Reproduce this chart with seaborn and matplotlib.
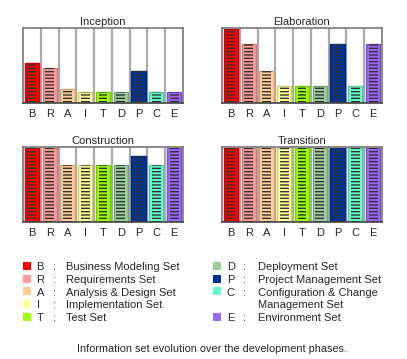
import matplotlib
matplotlib.use("Agg")
import matplotlib.pyplot as plt
import matplotlib.colors as mcolors
import seaborn as sns
import pandas as pd

categories = ['B', 'R', 'A', 'I', 'T', 'D', 'P', 'C', 'E']
set_names = ['Business Modeling Set', 'Requirements Set', 'Analysis & Design Set',
             'Implementation Set', 'Test Set', 'Deployment Set',
             'Project Management Set', 'Configuration & Change\nManagement Set',
             'Environment Set']
set_colors = ['#ff0000', '#ff9999', '#ffcc99', '#ffff99', '#99ff00',
              '#99cc99', '#003399', '#66ffcc', '#9966ff']

phases = ['Inception', 'Elaboration', 'Construction', 'Transition']
inception = [0.55, 0.48, 0.19, 0.15, 0.15, 0.15, 0.44, 0.15, 0.15]
elaboration = [1.0, 0.80, 0.44, 0.23, 0.23, 0.23, 0.80, 0.23, 0.80]
construction = [1.0, 1.0, 0.77, 0.77, 0.77, 0.77, 0.90, 0.77, 1.0]
transition = [1.0, 1.0, 1.0, 1.0, 1.0, 1.0, 1.0, 1.0, 1.0]
phase_values = [inception, elaboration, construction, transition]

caption = 'Information set evolution over the development phases.'

sns.set_style("white")
plt.rcParams['font.family'] = ['Liberation Sans', 'DejaVu Sans']
plt.rcParams['hatch.linewidth'] = 1.0

W, H = 407, 359
fig = plt.figure(figsize=(W / 100, H / 100), dpi=100)
palette = dict(zip(categories, set_colors))

# panel boxes in pixels: left, top, width, height
boxes = [(23, 28, 160, 75), (222, 28, 160, 75), (23, 147, 160, 75), (222, 147, 160, 75)]

for phase, values, (l, t, w, h) in zip(phases, phase_values, boxes):
    ax = fig.add_axes([l / W, (H - t - h) / H, w / W, h / H])
    df = pd.DataFrame({'set': categories, 'value': values})
    edge = [tuple(c * 0.8 for c in mcolors.to_rgb(col)) for col in set_colors]
    sns.barplot(data=df, x='set', y='value', hue='set', palette=palette,
                legend=False, width=0.8, ax=ax, saturation=1)
    for p, e in zip(ax.patches, edge):
        p.set_edgecolor(e)
        p.set_linewidth(1.0)
    n = len(ax.patches)
    # inset hatch lines
    sns.barplot(data=df, x='set', y='value', hue='set', palette=palette,
                legend=False, width=0.5, ax=ax, saturation=1, fill=False)
    for p in ax.patches[n:]:
        p.set_hatch('-----')
        p.set_facecolor('none')
        p.set_edgecolor('#333333')
        p.set_linewidth(0)
    for i in range(len(categories) - 1):
        ax.axvline(i + 0.5, color='#aaaaaa', lw=1.6, zorder=0)
    ax.set_xlim(-0.5, len(categories) - 0.5)
    ax.set_ylim(0, 1.02)
    ax.set_yticks([])
    ax.set_xlabel('')
    ax.set_ylabel('')
    ax.tick_params(axis='x', length=0, pad=4.5, labelsize=8)
    for s in ax.spines.values():
        s.set_visible(True)
        s.set_color('#777777')
        s.set_linewidth(1.2)
    ax.spines['bottom'].set_color('#444444')
    ax.set_title(phase, fontsize=8, pad=2.5)

# legend and caption
lg = fig.add_axes([0, 0, 1, 1])
lg.set_xlim(0, W)
lg.set_ylim(H, 0)
lg.axis('off')
rows = [267, 280, 292.5, 305, 318]
columns = [(categories[:5], set_colors[:5], set_names[:5], (26.5, 36.5, 52.5, 65.7)),
           (categories[5:], set_colors[5:], set_names[5:], (216.7, 226.7, 242.5, 257.7))]
for cats, cols, names, (mx, lx, cx, tx) in columns:
    r = 0
    for cat, col, name in zip(cats, cols, names):
        y = rows[r]
        lg.scatter([mx], [y - 1.5], marker='s', s=30, color=col, linewidths=0)
        lg.text(lx, y, cat, fontsize=8, va='center', ha='left')
        lg.text(cx, y, ':', fontsize=8, va='center', ha='left')
        for k, line in enumerate(name.split('\n')):
            lg.text(tx, rows[r + k], line, fontsize=8, va='center', ha='left')
        r += len(name.split('\n'))

lg.text(212, 349, caption, fontsize=7.8, ha='center', va='center')

fig.savefig('out.png', dpi=100)
